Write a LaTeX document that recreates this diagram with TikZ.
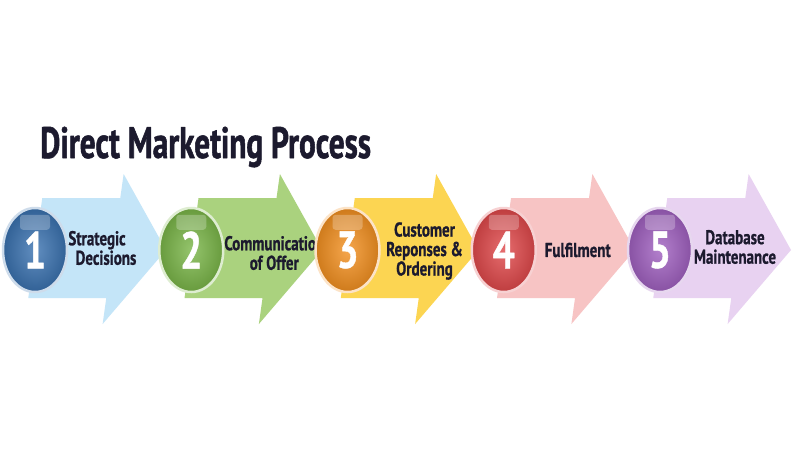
\documentclass[tikz,border=0pt]{standalone}
\usepackage{fontspec}
\newfontfamily\condfont{PT Sans}[FakeStretch=0.75,FakeBold=0.8]
\newfontfamily\titlefont{PT Sans}[FakeStretch=0.71,FakeBold=1.2]
\usetikzlibrary{shapes.geometric}
\definecolor{arrowA}{HTML}{C4E5F8}\definecolor{ballA}{HTML}{3A72B0}
\definecolor{arrowB}{HTML}{AAD27E}\definecolor{ballB}{HTML}{7AB648}
\definecolor{arrowC}{HTML}{FCD552}\definecolor{ballC}{HTML}{F39020}
\definecolor{arrowD}{HTML}{F7C4C4}\definecolor{ballD}{HTML}{E0484A}
\definecolor{arrowE}{HTML}{E8D2F1}\definecolor{ballE}{HTML}{A060C0}
\definecolor{ink}{HTML}{1C1A2E}
\tikzset{
  ball/.style={ellipse,minimum width=64pt,minimum height=84pt,inner sep=0pt,
    draw=#1!25!white,line width=2.5pt,
    shade,shading=radial,inner color=#1!80!white,outer color=#1!85!black,
    text=white,font=\condfont\bfseries\fontsize{52}{52}\selectfont},
  steplabel/.style={align=center,text=ink,
    font=\condfont\bfseries\fontsize{20}{19.5}\selectfont},
}
\begin{document}
\begin{tikzpicture}[x=1pt,y=-1pt,line join=round]
\useasboundingbox[fill=white] (0,0) rectangle (795,448);
\node[anchor=base west,text=ink,inner sep=0pt,
  font=\titlefont\bfseries\fontsize{44}{44}\selectfont] (title) at (40,158) {Direct Marketing Process};
% arrows and their texts
\foreach \i/\c/\txt/\dx/\dy in {1/A/{Strategic\\\hspace*{18pt}Decisions}/97/-2,
  2/B/{Communication\\of Offer}/118/3,
  3/C/{Customer\\Reponses \&\\Ordering}/112/1,
  4/D/{Fulfilment}/109/0,
  5/E/{Database\\Maintenance}/110/-3}{
  \begin{scope}[shift={({156.25*(\i-1)},250)},xslant=0.14]
    \fill[arrow\c] (35,-52)--(113,-52)--(113,-76)--(166,0)--(113,74)--(113,48)--(35,48)--cycle;
  \end{scope}
  \node[steplabel] (t\i) at ({\dx+156.25*(\i-1)},250+\dy) {\txt};
}
% numbered balls
\foreach \i/\c in {1/A,2/B,3/C,4/D,5/E}{
  \node[ball=ball\c] (b\i) at ({35+156.25*(\i-1)},250) {\i};
  \fill[white,opacity=0.25,rounded corners=3pt] ([xshift=-15pt,yshift=-8pt]b\i.north) rectangle ([xshift=15pt,yshift=-23pt]b\i.north);
}
\end{tikzpicture}
\end{document}
